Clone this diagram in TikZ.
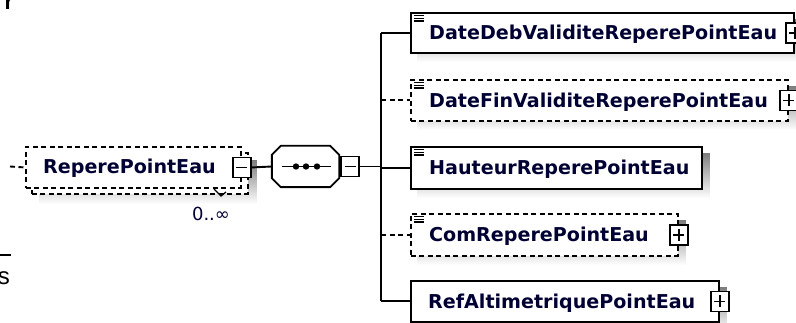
\documentclass[tikz,border=0pt]{standalone}
\usepackage{fontspec}
\setmainfont{DejaVu Sans}
\newfontfamily\docfont{Liberation Sans}
\usetikzlibrary{backgrounds}
\definecolor{navy}{RGB}{0,0,51}
\definecolor{shade}{RGB}{192,192,192}
\begin{document}
\begin{tikzpicture}[x=1pt,y=-1pt,
  box/.style={draw, line width=1.9pt, fill=white, inner sep=0pt, anchor=north west},
  optbox/.style={box, dash pattern=on 5pt off 3.5pt},
  lbl/.style={font=\bfseries\fontsize{19.1}{23}\selectfont, text=navy, inner sep=0pt, anchor=base west},
  tog/.style={draw, line width=1.7pt, fill=white, minimum width=18pt, minimum height=20pt, inner sep=0pt},
  plusbox/.style={tog, path picture={\draw[line width=1.6pt] ([xshift=3.5pt]path picture bounding box.west) -- ([xshift=-3.5pt]path picture bounding box.east) ([yshift=-4pt]path picture bounding box.north) -- ([yshift=4pt]path picture bounding box.south);}},
  minusbox/.style={tog, path picture={\draw[line width=1.6pt] ([xshift=3.5pt]path picture bounding box.west) -- ([xshift=-3.5pt]path picture bounding box.east);}},
  conn/.style={line width=1.9pt},
  optconn/.style={conn, dash pattern=on 5pt off 3.5pt},
  icon/.style={line width=1.3pt},
]
\useasboundingbox (0,0) rectangle (796,323);

% fragments at the left edge
\node[font=\docfont\bfseries\fontsize{22}{26}\selectfont, anchor=base west, inner sep=0pt] (fr) at (4.5,10) {r};
\draw[line width=1.8pt] (0,255) -- (11,255);
\node[font=\docfont\fontsize{24}{28}\selectfont, anchor=base east, inner sep=0pt] (fs) at (10,285) {s};

% main element (multiple occurrence)
\node[optbox, minimum width=216pt, minimum height=41pt] (rb) at (31,152) {};
\node[optbox, minimum width=215pt, minimum height=41pt] (rf) at (25,146) {};
\node[lbl] (rt) at (43,173.5) {ReperePointEau};
\node[minusbox] (rm) at (rf.east) {};
\node[font=\fontsize{18}{21}\selectfont, text=navy, inner sep=0pt] (occ) at (211,214) {0..∞};
\draw[line width=1.3pt] (214,189) -- (221,196) -- (226,192);
\coordinate (in) at (10,166.5);
\draw[optconn] (in) -- (rf.west);

% sequence compositor
\node[minimum width=67pt, minimum height=41pt, inner sep=0pt] (seq) at (305.5,166.5) {};
\draw[line width=1.9pt, fill=white] ([xshift=9pt]seq.north west) -- ([xshift=-9pt]seq.north east) -- ([yshift=-9pt]seq.north east) -- ([yshift=9pt]seq.south east) -- ([xshift=-9pt]seq.south east) -- ([xshift=9pt]seq.south west) -- ([yshift=9pt]seq.south west) -- ([yshift=-9pt]seq.north west) -- cycle;
\draw[conn] ([xshift=10pt]seq.west) -- ([xshift=-8pt]seq.east);
\foreach \dx in {-9.5,0.5,11.5} \fill ([xshift=\dx pt]seq.center) circle[radius=3.2pt];
\node[minusbox] (sm) at ([xshift=11pt]seq.east) {};
\draw[conn] (rm.east) -- (seq.west);

% children
\node[box, minimum width=383pt, minimum height=40pt] (c1) at (410,12) {};
\node[optbox, minimum width=377pt, minimum height=41pt] (c2) at (410,79) {};
\node[box, minimum width=291pt, minimum height=42pt] (c3) at (410,146) {};
\node[optbox, minimum width=267pt, minimum height=42pt] (c4) at (410,213) {};
\node[box, minimum width=308pt, minimum height=41pt] (c5) at (410,280) {};

\node[lbl] (t1) at ([xshift=19pt,yshift=-7pt]c1.west) {DateDebValiditeReperePointEau};
\node[lbl] (t2) at ([xshift=19pt,yshift=-7pt]c2.west) {DateFinValiditeReperePointEau};
\node[lbl] (t3) at ([xshift=19pt,yshift=-7pt]c3.west) {HauteurReperePointEau};
\node[lbl] (t4) at ([xshift=19pt,yshift=-7pt]c4.west) {ComReperePointEau};
\node[lbl] (t5) at ([xshift=18pt,yshift=-7pt]c5.west) {RefAltimetriquePointEau};

\foreach \n in {c1,c2,c3,c4}
  \foreach \d in {3.5,6.2,8.9}
    \draw[icon] ([shift={(4,\d)}]\n.north west) -- ++(10,0);

\node[plusbox] (p1) at (c1.east) {};
\node[plusbox] (p2) at (c2.east) {};
\node[plusbox] (p4) at (c4.east) {};
\node[plusbox] (p5) at (c5.east) {};

% connectors
\coordinate (vx) at (381,0);
\draw[conn] (c1.west -| vx) -- (c5.west -| vx);
\draw[conn] (sm.east) -- (sm.east -| vx);
\draw[conn] (c1.west -| vx) -- (c1.west);
\draw[optconn] (c2.west -| vx) -- (c2.west);
\draw[conn] (c3.west -| vx) -- (c3.west);
\draw[optconn] (c4.west -| vx) -- (c4.west);
\draw[conn] (c5.west -| vx) -- (c5.west);

% shadows
\begin{scope}[on background layer]
  \foreach \n in {c1,c2,c3,c4,c5}
    \fill[shade] ([shift={(7,8)}]\n.north west) rectangle ([shift={(7,8)}]\n.south east);
  \fill[shade] ([shift={(8,9)}]rb.north west) rectangle ([shift={(8,9)}]rb.south east);
  \fill[shade, shift={(8,8)}] ([xshift=9pt]seq.north west) -- ([xshift=-9pt]seq.north east) -- ([yshift=-9pt]seq.north east) -- ([yshift=9pt]seq.south east) -- ([xshift=-9pt]seq.south east) -- ([xshift=9pt]seq.south west) -- ([yshift=9pt]seq.south west) -- ([yshift=-9pt]seq.north west) -- cycle;
\end{scope}
\end{tikzpicture}
\end{document}
